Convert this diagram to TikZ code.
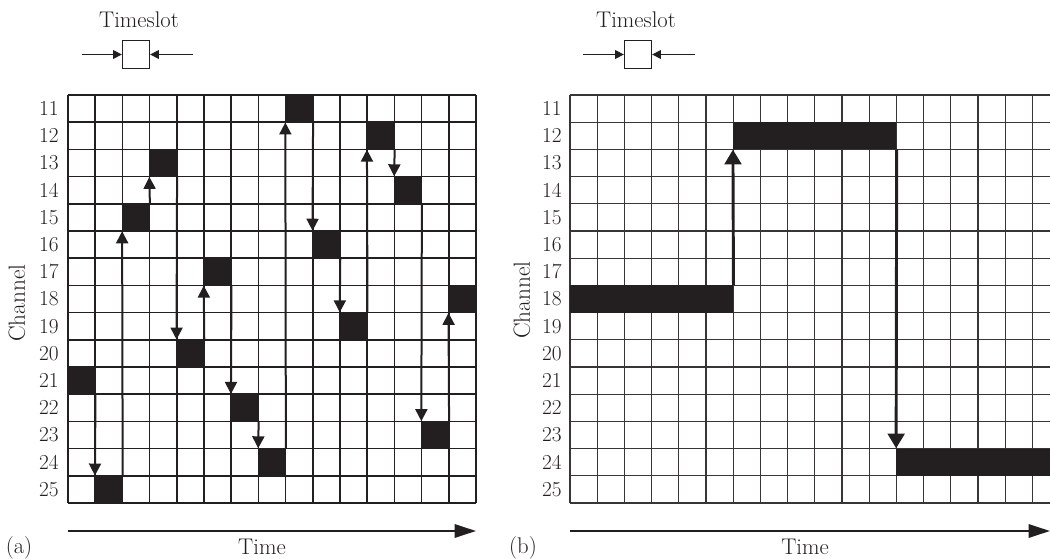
\documentclass[tikz,border=0pt]{standalone}
\usetikzlibrary{arrows.meta}
\definecolor{ink}{RGB}{35,31,32}
\begin{document}
\begin{tikzpicture}[x=0.75pt,y=-0.75pt,
  cellbox/.style={rectangle,fill=ink,draw=none,inner sep=0pt,minimum width=20.4pt,minimum height=20.4pt},
  barbox/.style={rectangle,fill=ink,draw=none,inner sep=0pt,minimum height=20.4pt},
  slotbox/.style={rectangle,draw=ink,line width=0.8pt,fill=white,inner sep=0pt,minimum width=20.4pt,minimum height=20.4pt},
  gridA/.style={draw=ink,line width=1.1pt},
  gridB/.style={draw=ink!90,line width=0.95pt},
  hopA/.style={draw=ink,line width=1.5pt,-{Triangle[length=9pt,width=9pt]}},
  hopB/.style={draw=ink,line width=2.2pt,-{Triangle[length=11pt,width=12.5pt]}},
  slotarrow/.style={draw=ink,line width=0.8pt,-{Triangle[length=6.5pt,width=6.5pt]}},
  timearrow/.style={draw=ink,line width=1.5pt,-{Triangle[length=16pt,width=10pt]}},
  lab/.style={font=\fontsize{17}{20}\selectfont,text=ink,inner sep=0pt},
  numlab/.style={font=\fontsize{16}{19}\selectfont,text=ink,inner sep=0pt,anchor=east},
  chanlab/.style={font=\fontsize{17.5}{20}\selectfont,text=ink,inner sep=0pt,rotate=90}
]
\useasboundingbox (0,0) rectangle (1050,559);
\def\c{27.2}

% ---------------- (a) ----------------
\foreach \i in {0,...,15}
  \draw[gridA] ({68+\i*\c},95) -- ({68+\i*\c},503);
\foreach \j in {0,...,15}
  \draw[gridA] (68,{95+\j*\c}) -- (476,{95+\j*\c});
\foreach \k/\ch in {0/21,1/25,2/15,3/13,4/20,5/17,6/22,7/24,8/11,9/16,10/19,11/12,12/14,13/23,14/18}
  \node[cellbox] (a\k) at ({68+(\k+0.5)*\c},{95+(\ch-10.5)*\c}) {};
\foreach \k/\n/\f/\t in {0/1/south east/north west,1/2/north east/south west,2/3/north east/south west,
  3/4/south east/north west,4/5/north east/south west,5/6/south east/north west,6/7/south east/north west,
  7/8/north east/south west,8/9/south east/north west,9/10/south east/north west,10/11/north east/south west,
  11/12/south east/north west,12/13/south east/north west,13/14/north east/south west}
  \draw[hopA] (a\k.\f) -- (a\n.\t);
\foreach \j in {11,...,25}
  \node[numlab] (la\j) at (59,{95+(\j-10.5)*\c}) {\j};
\node[chanlab] (cha) at (17,303) {Channel};

\node[slotbox] (tsa) at ({68+2.5*\c},54.5) {};
\coordinate (tsaL) at (82,54.5);
\coordinate (tsaR) at (193,54.5);
\draw[slotarrow] (tsaL) -- (tsa.west);
\draw[slotarrow] (tsaR) -- (tsa.east);
\node[lab] (tsla) at (139,20) {Timeslot};

\coordinate (taS) at (68,531);
\coordinate (taE) at (476,531);
\draw[timearrow] (taS) -- (taE);
\node[lab] (timea) at (262,547) {Time};
\node[lab] (capa) at (19,548) {(a)};

% ---------------- (b) ----------------
\foreach \i in {0,...,17}
  \draw[gridB] ({570+\i*\c},95) -- ({570+\i*\c},503);
\foreach \j in {0,...,15}
  \draw[gridB] (570,{95+\j*\c}) -- (1050,{95+\j*\c});
\node[barbox,minimum width=122.4pt] (b18) at ({570+3*\c},{95+7.5*\c}) {};
\node[barbox,minimum width=122.4pt] (b12) at ({570+9*\c},{95+1.5*\c}) {};
\node[barbox,minimum width=115.2pt] (b24) at (973.2,{95+13.5*\c}) {};
\draw[hopB] (b18.north east) -- (b12.south west);
\draw[hopB] (b12.south east) -- (b24.north west);
\foreach \j in {11,...,25}
  \node[numlab] (lb\j) at (562,{95+(\j-10.5)*\c}) {\j};
\node[chanlab] (chb) at (522,300) {Channel};

\node[slotbox] (tsb) at ({570+2.5*\c},54.5) {};
\coordinate (tsbL) at (583,54.5);
\coordinate (tsbR) at (695,54.5);
\draw[slotarrow] (tsbL) -- (tsb.west);
\draw[slotarrow] (tsbR) -- (tsb.east);
\node[lab] (tslb) at (636,20) {Timeslot};

\coordinate (tbS) at (570,531);
\coordinate (tbE) at (1050,531);
\draw[timearrow] (tbS) -- (tbE);
\node[lab] (timeb) at (805,547) {Time};
\node[lab] (capb) at (523,548) {(b)};
\end{tikzpicture}
\end{document}
